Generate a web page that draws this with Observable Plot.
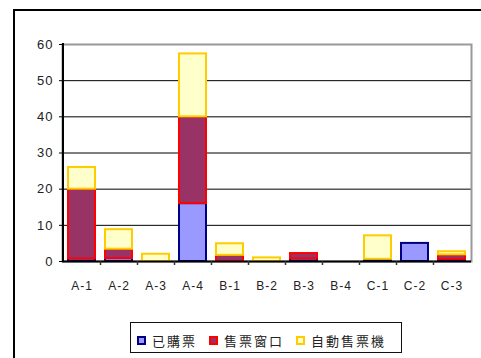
<!DOCTYPE html>
<html><head><meta charset="utf-8">
<script src="https://cdn.jsdelivr.net/npm/d3@7"></script>
<script src="https://cdn.jsdelivr.net/npm/@observablehq/plot@0.6"></script>
<style>
html,body{margin:0;padding:0;}
body{width:481px;height:358px;overflow:hidden;background:#fff;position:relative;font-family:"Liberation Sans",Arial,sans-serif;}
#frame{position:absolute;left:13px;top:9px;width:600px;height:600px;border-left:2px solid #000;border-top:2px solid #000;pointer-events:none;}
#chart{position:absolute;left:0;top:0;}
#legend{position:absolute;left:130px;top:322px;width:270px;height:29px;border:1px solid #111;box-sizing:content-box;display:flex;align-items:center;padding-top:0;font-family:"Noto Sans CJK TC",sans-serif;font-size:13px;letter-spacing:2px;color:#222;}
#legend .item{display:flex;align-items:center;margin-top:5px;}
#legend .sw{display:inline-block;width:5px;height:5px;border:2px solid;margin-right:6px;}
</style></head>
<body>
<div id="chart"></div>
<div id="frame"></div>
<div id="legend"></div>
<script>
const categories = ["A-1","A-2","A-3","A-4","B-1","B-2","B-3","B-4","C-1","C-2","C-3"];
const seriesNames = ["已購票","售票窗口","自動售票機"];
const purchased   = [0.7, 0.8, 0, 16, 0, 0, 0.7, 0, 0.6, 5, 0.6];
const windowSales = [19.3, 2.6, 0, 24, 1.7, 0, 1.5, 0, 0, 0, 1.25];
const machineSales= [6, 5.4, 2, 17.4, 3.2, 1, 0, 0, 6.5, 0, 0.85];
const yTicks = [0,10,20,30,40,50,60];
const fills = ["#9999FF","#993366","#FFFFCC"];
const strokes = ["#000080","#FF0000","#FFCC00"];

const seriesValues = [purchased, windowSales, machineSales];
const rows = [];
categories.forEach((c,i)=>{
  let base = 0;
  seriesValues.forEach((vals,s)=>{
    const v = vals[i];
    if (v > 0) rows.push({cat:c, series:s, y1:base, y2:base+v});
    base += v;
  });
});

function axisDecor(index, scales, values, dims) {
  const x = scales.x, y = scales.y;
  const half = (x.step() - x.bandwidth())/2;
  const g = d3.create("svg:g");
  const y0 = y(0);
  categories.forEach((c,i)=>{
    if (i === 0) return;
    const bx = Math.round(x(c) - half) + 0.5;
    g.append("line").attr("x1",bx).attr("x2",bx).attr("y1",y0).attr("y2",y0+4)
      .attr("stroke","#333").attr("stroke-width",1.5);
  });
  const lx = x(categories[0]) - half;
  g.append("line").attr("x1",lx).attr("x2",lx).attr("y1",y(60)-1).attr("y2",y0+1)
    .attr("stroke","#000").attr("stroke-width",2);
  return g.node();
}

const seriesMarks = seriesNames.map((name,s)=>
  Plot.barY(rows.filter(r=>r.series===s), {x:"cat", y1:"y1", y2:"y2", fill:fills[s], stroke:strokes[s], strokeWidth:2})
);

const chart = Plot.plot({
  width:481, height:300,
  marginLeft:62, marginRight:10, marginTop:44, marginBottom:39,
  style:{background:"transparent", fontFamily:"'Liberation Sans', Arial, sans-serif", fontSize:"12px", color:"#222", letterSpacing:"1px"},
  x:{domain:categories, paddingInner:0.27, paddingOuter:0.135, label:null},
  y:{domain:[0,60], label:null},
  marks:[
    Plot.ruleY(yTicks.filter(d=>d>0 && d<60), {stroke:"#000", strokeWidth:1}),
    Plot.frame({stroke:"#999", strokeWidth:2}),
    ...seriesMarks,
    Plot.ruleY([0], {stroke:"#000", strokeWidth:2}),
    axisDecor,
    Plot.axisY({ticks:yTicks, tickSize:3, tickPadding:6, label:null, stroke:"#000", fontSize:13}),
    Plot.axisX({tickSize:0, tickPadding:20, label:null, fontSize:12})
  ]
});
document.getElementById("chart").appendChild(chart);

const legend = document.getElementById("legend");
seriesNames.forEach((name,s)=>{
  const item = document.createElement("span");
  item.className = "item";
  item.style.marginLeft = (s===0 ? 6 : 12) + "px";
  const sw = document.createElement("span");
  sw.className = "sw";
  sw.style.background = fills[s];
  sw.style.borderColor = strokes[s];
  const t = document.createElement("span");
  t.textContent = name;
  item.appendChild(sw); item.appendChild(t);
  legend.appendChild(item);
});
</script>
</body></html>
